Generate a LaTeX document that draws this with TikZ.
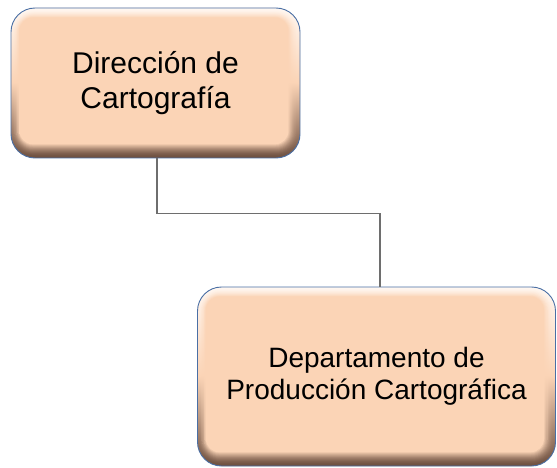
\documentclass[tikz,border=0pt]{standalone}
\usepackage{fontspec}
\setmainfont{Liberation Sans}
\definecolor{peach}{HTML}{FBD4B6}
\definecolor{hilite}{HTML}{FFF8F2}
\definecolor{shadowbrown}{HTML}{6E5040}
\definecolor{bordblue}{HTML}{4A6FA5}
\definecolor{connGray}{HTML}{6E6E6E}
\tikzset{
  bevelbox/.style={
    draw=bordblue, line width=0.9pt, rounded corners=24pt,
    align=center, inner sep=0pt, fill=peach,
    path picture={
      \foreach \t in {0,...,14}{
        \pgfmathsetmacro\ins{\t*0.75}
        \pgfmathtruncatemacro\p{100*(\t/14)^1.7}
        \pgfmathsetmacro\rr{max(24-\ins,2)}
        \shade[rounded corners=\rr pt, top color=peach!\p!hilite,
               bottom color=peach!\p!shadowbrown, middle color=peach]
          ([shift={(0.8*\ins pt,1.3*\ins pt)}]path picture bounding box.south west)
          rectangle
          ([shift={(-1.1*\ins pt,-0.9*\ins pt)}]path picture bounding box.north east);
      }
    }
  },
  conn/.style={draw=connGray, line width=1.1pt}
}
\begin{document}
\begin{tikzpicture}[x=1pt,y=-1pt]
  \useasboundingbox (0,0) rectangle (557,468);
  \node[bevelbox, minimum width=289pt, minimum height=150pt,
        font=\fontsize{30}{35}\selectfont] (b1) at (155.5,83)
        {Dirección de\\Cartografía};
  \node[bevelbox, minimum width=358pt, minimum height=179pt,
        font=\fontsize{28}{32}\selectfont] (b2) at (376.5,376.5)
        {Departamento de\\Producción Cartográfica};
  \coordinate (elbow) at ([xshift=1.5pt,yshift=-55pt]b1.south);
  \draw[conn] ([xshift=1.5pt]b1.south) -- (elbow) -| ([xshift=3.5pt]b2.north);
\end{tikzpicture}
\end{document}
